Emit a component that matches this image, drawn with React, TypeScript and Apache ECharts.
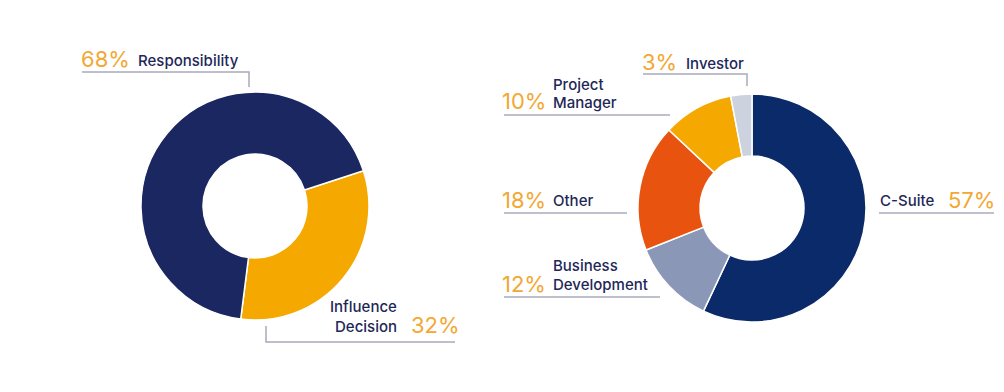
import React, { useEffect, useRef } from "react";
import * as echarts from "echarts";

const leftCategories = ["Influence Decision", "Responsibility"];
const leftValues = [32, 68];
const leftColors = ["#f5a800", "#1b2761"];

const rightCategories = ["C-Suite", "Business Development", "Other", "Project Manager", "Investor"];
const rightValues = [57, 12, 18, 10, 3];
const rightColors = ["#0b2a69", "#8a97b7", "#e8540f", "#f5a800", "#cdd2df"];

const ORANGE = "#f2a833";
const NAVY = "#1e2758";
const LINE = "#a9abbb";
const FONT = "Inter, 'Open Sans', sans-serif";

function pct(v: number) {
  return `${v}%`;
}

function txt(text: string, x: number, y: number, color: string, size: number, align = "left") {
  return {
    type: "text",
    x,
    y,
    style: {
      text,
      fill: color,
      font: `${size > 18 ? 400 : 500} ${size}px ${FONT}`,
      align,
      verticalAlign: "middle",
      textAlign: align,
      textVerticalAlign: "middle",
    },
  };
}

function line(points: number[][]) {
  return {
    type: "polyline",
    shape: { points },
    style: { stroke: LINE, lineWidth: 1.5, fill: null },
  };
}

export default function App() {
  const ref = useRef<HTMLDivElement>(null);
  useEffect(() => {
    if (!ref.current) return;
    const chart = echarts.init(ref.current, undefined, { renderer: "svg" });
    const v = (cats: string[], vals: number[], name: string) => vals[cats.indexOf(name)];
    chart.setOption({
      animation: false,
      backgroundColor: "#ffffff",
      series: [
        {
          type: "pie",
          center: [255, 206],
          radius: [52, 114],
          startAngle: 18,
          clockwise: true,
          label: { show: false },
          labelLine: { show: false },
          silent: true,
          itemStyle: { borderColor: "#ffffff", borderWidth: 1.5 },
          data: leftCategories.map((c, i) => ({ name: c, value: leftValues[i], itemStyle: { color: leftColors[i] } })),
        },
        {
          type: "pie",
          center: [752, 208],
          radius: [52, 114],
          startAngle: 90,
          clockwise: true,
          label: { show: false },
          labelLine: { show: false },
          silent: true,
          itemStyle: { borderColor: "#ffffff", borderWidth: 1.5 },
          data: rightCategories.map((c, i) => ({ name: c, value: rightValues[i], itemStyle: { color: rightColors[i] } })),
        },
      ],
      graphic: [
        // Left: Responsibility
        line([[249, 87], [249, 72], [82, 72]]),
        txt(pct(v(leftCategories, leftValues, "Responsibility")), 81, 59, ORANGE, 22),
        txt("Responsibility", 138, 60, NAVY, 15),
        // Left: Influence Decision
        line([[266, 326], [266, 342], [455, 342]]),
        txt("Influence", 330, 306, NAVY, 15),
        txt("Decision", 335, 326, NAVY, 15),
        txt(pct(v(leftCategories, leftValues, "Influence Decision")), 411, 325, ORANGE, 22),
        // Right: Investor
        line([[747, 86], [747, 74], [643, 74]]),
        txt(pct(v(rightCategories, rightValues, "Investor")), 642, 62, ORANGE, 22),
        txt("Investor", 686, 63, NAVY, 15),
        // Right: Project Manager
        line([[504, 115], [670, 115]]),
        txt(pct(v(rightCategories, rightValues, "Project Manager")), 502, 101, ORANGE, 22),
        txt("Project", 553, 84, NAVY, 15),
        txt("Manager", 553, 102, NAVY, 15),
        // Right: Other
        line([[504, 213], [627, 213]]),
        txt(pct(v(rightCategories, rightValues, "Other")), 502, 200, ORANGE, 22),
        txt("Other", 553, 200, NAVY, 15),
        // Right: Business Development
        line([[504, 297], [660, 297]]),
        txt(pct(v(rightCategories, rightValues, "Business Development")), 502, 284, ORANGE, 22),
        txt("Business", 553, 265, NAVY, 15),
        txt("Development", 553, 284, NAVY, 15),
        // Right: C-Suite
        line([[879, 213], [994, 213]]),
        txt("C-Suite", 880, 200, NAVY, 15),
        txt(pct(v(rightCategories, rightValues, "C-Suite")), 948, 200, ORANGE, 22),
      ],
    });
    return () => chart.dispose();
  }, []);
  return (
    <div
      ref={ref}
      style={{ position: "absolute", left: 0, top: 0, width: 1004, height: 392, background: "#fff" }}
    />
  );
}
